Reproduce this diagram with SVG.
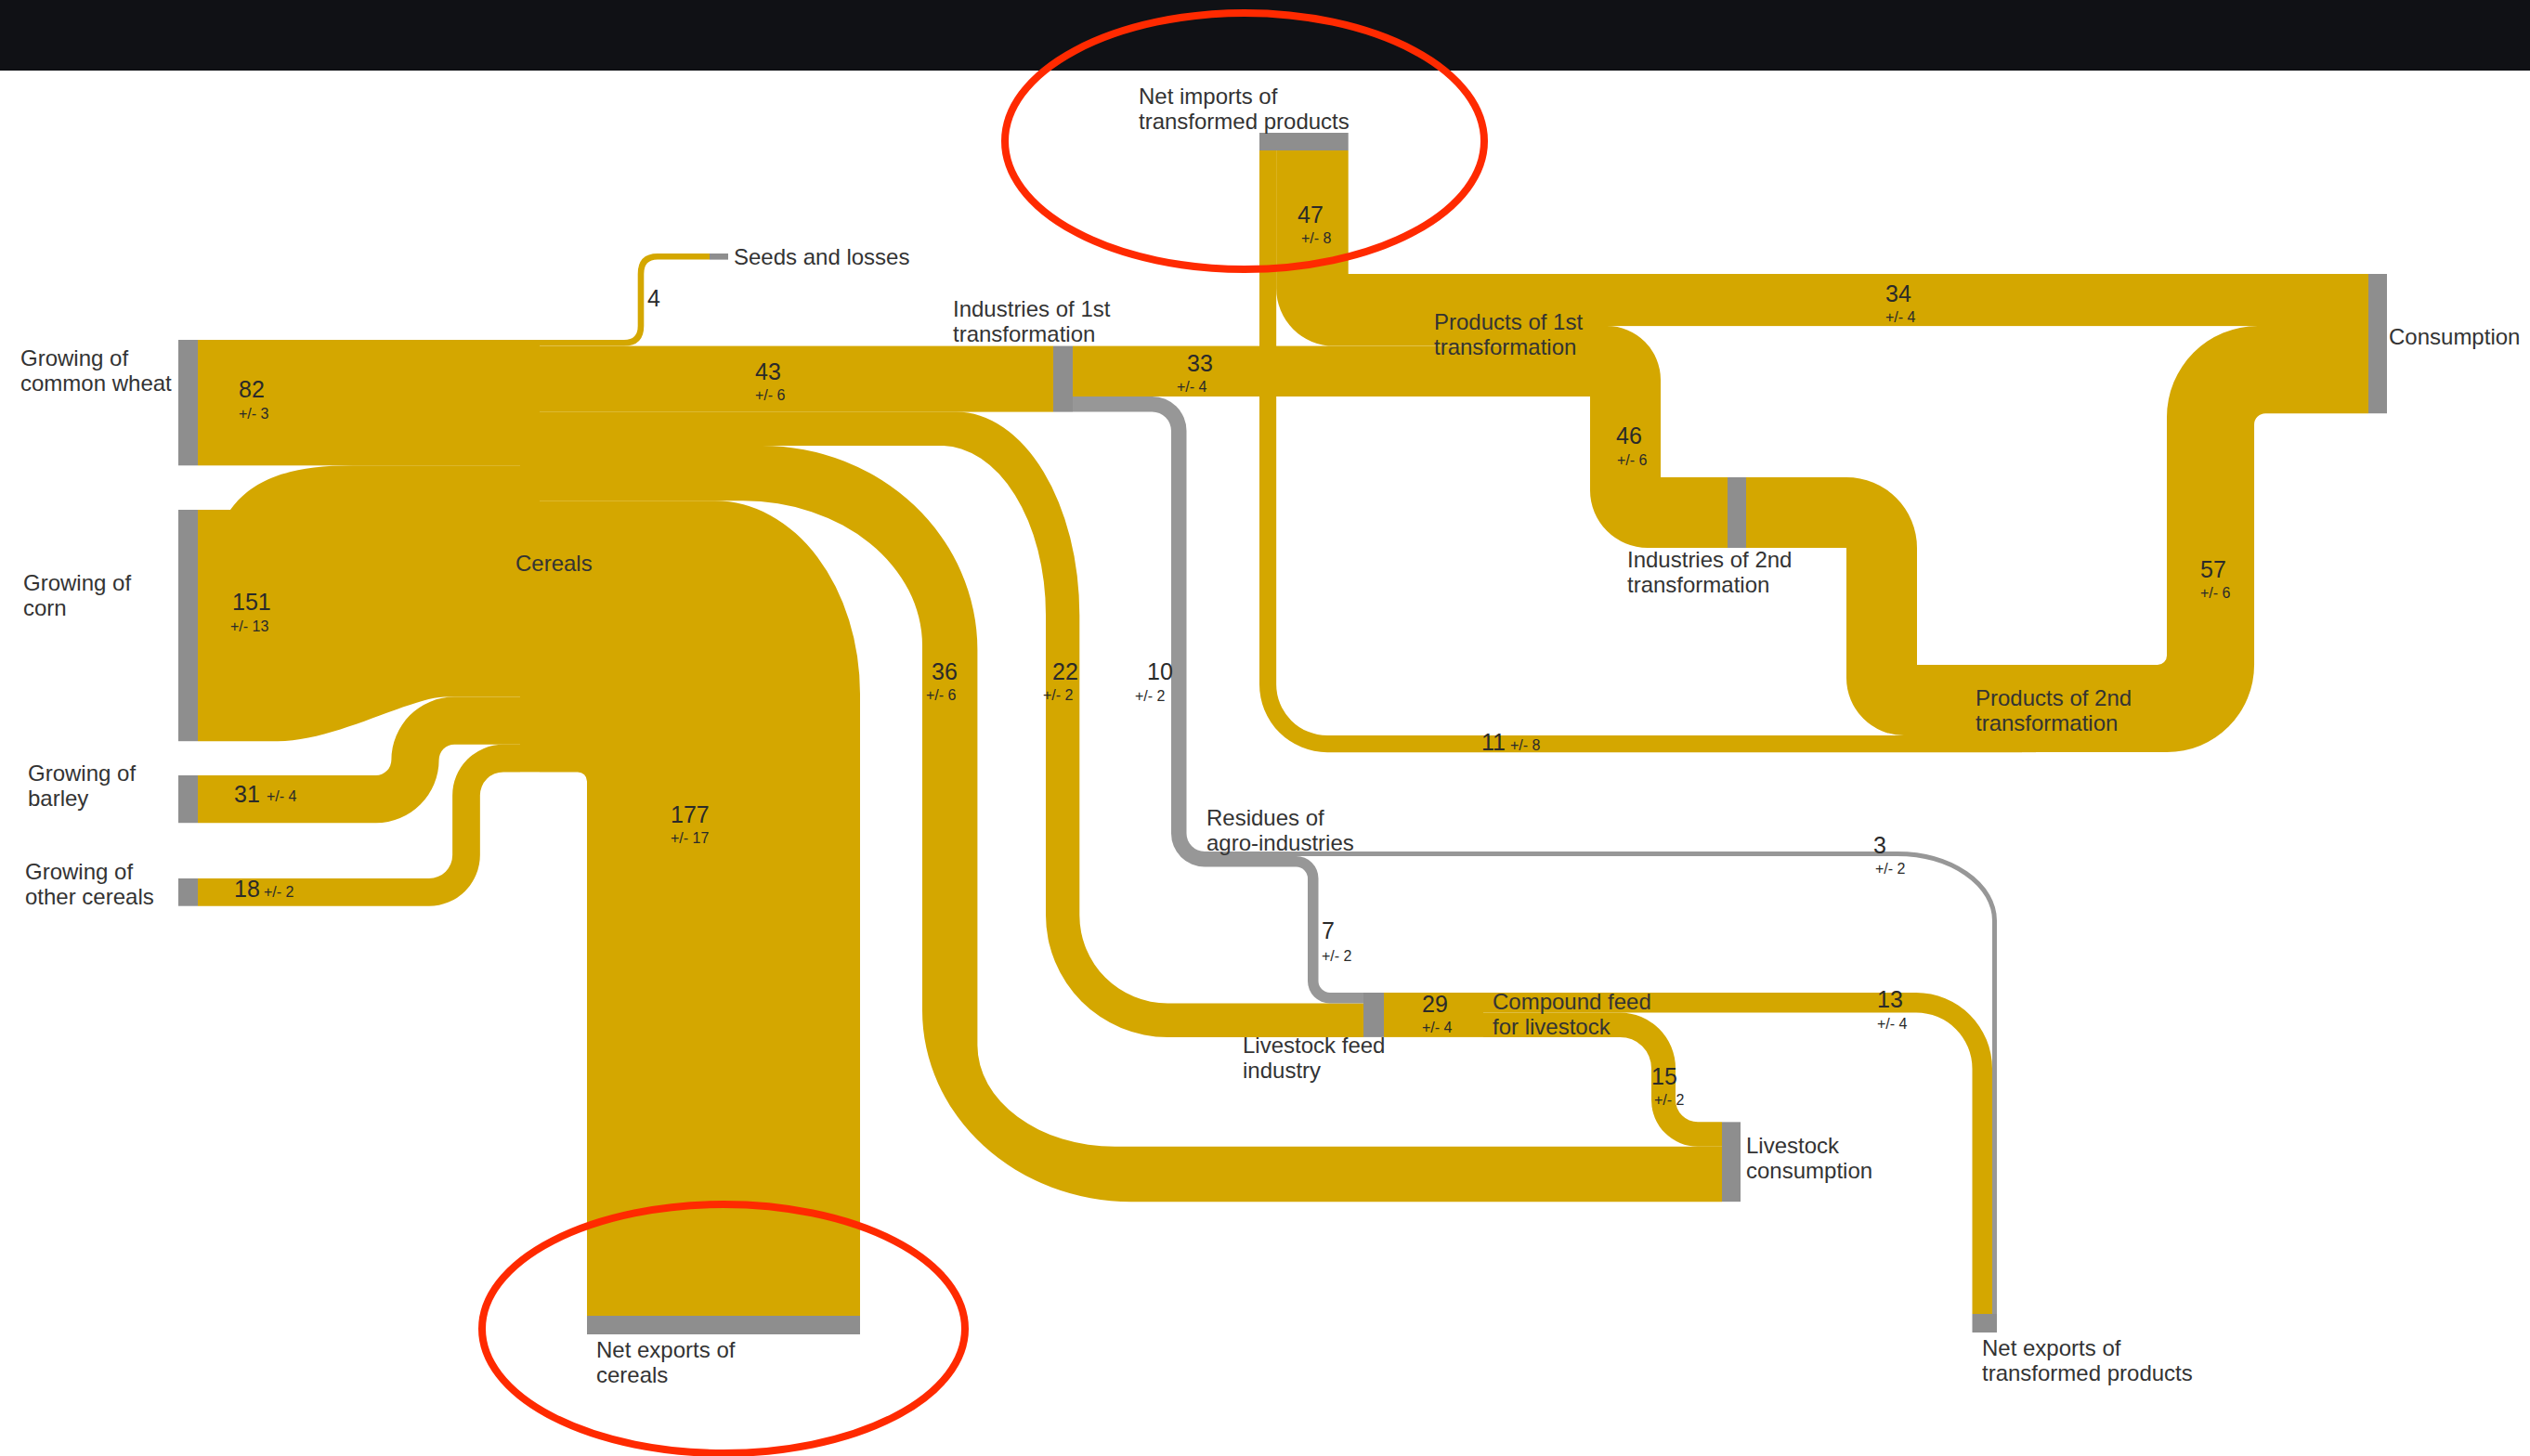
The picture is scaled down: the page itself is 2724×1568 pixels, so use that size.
<svg xmlns="http://www.w3.org/2000/svg" width="2724" height="1568" viewBox="0 0 2724 1568">
<style>
.f{fill:#d4a700}
.g{fill:#979797}
.n{fill:#8e8e8e}
text{font-family:"Liberation Sans",Arial,Helvetica,sans-serif;fill:#333}
.l{font-size:24px}
.v{font-size:25px;fill:#2a2a2a}
.e{font-size:16px;fill:#2a2a2a}
.mark{fill:none;stroke:#ff2a00;stroke-width:8}
</style>
<rect width="2724" height="1568" fill="#ffffff"/>
<rect width="2724" height="76" fill="#101115"/>

<g id="connectors">
  <!-- inputs to Cereals -->
  <rect class="f" x="213" y="366" width="347" height="135.3"/>
  <path class="f" d="M213,549 H248 C268,522 300,501.3 380,501.3 H560 V750.5 H478 C440,752 360,798.2 299,798.2 H213 Z"/>
  <path class="f" d="M213,835 H404.75 A16.65,16.65 0 0 0 421.4,818.35 A67.85,67.85 0 0 1 489.25,750.5 H560 V801.7 H489.25 A16.65,16.65 0 0 0 472.6,818.35 A67.85,67.85 0 0 1 404.75,886.2 H213 Z"/>
  <path class="f" d="M213,946 H462 A25.15,25.15 0 0 0 487.15,920.85 V856.55 A54.85,54.85 0 0 1 542,801.7 H560 V831.4 H542 A25.15,25.15 0 0 0 516.85,856.55 V920.85 A54.85,54.85 0 0 1 462,975.7 H213 Z"/>
  <!-- outputs of Cereals -->
  <path d="M581,369.3 H672 Q690,369.3 690,351 V295 Q690,276.3 708,276.3 H764" fill="none" stroke="#d4a700" stroke-width="6.6"/>
  <rect class="f" x="581" y="372.6" width="553" height="71"/>
  <path class="f" d="M581,443.6 H1029.3 A133,219 0 0 1 1162.3,662.6 V985.6 A95,95 0 0 0 1257.3,1080.6 H1468 V1116.9 H1257.3 A131.3,131.3 0 0 1 1126,985.6 V661.9 A113,182 0 0 0 1013,479.9 H581 Z"/>
  <path class="f" d="M581,479.9 H820.4 A232,220 0 0 1 1052.4,699.9 V1125.75 A148,109 0 0 0 1200.4,1234.75 H1854 V1294.15 H1218 A225,206 0 0 1 993,1088.15 V695.3 A193,156 0 0 0 800,539.3 H581 Z"/>
  <path class="f" d="M581,539.3 H770 A156,208 0 0 1 926,747.3 V1417 H632 V841.4 A10,10 0 0 0 622,831.4 H581 Z"/>
  <!-- Industries of 1st transformation outputs -->
  <rect class="f" x="1155" y="372.6" width="469" height="54.4"/>
  <path class="g" d="M1155,427 H1240.5 A37,37 0 0 1 1277.5,464 V897.5 A19.5,19.5 0 0 0 1297,917 H1300 V933.5 H1297 A36,36 0 0 1 1261,897.5 V464 A20.5,20.5 0 0 0 1240.5,443.5 H1155 Z"/>
  <!-- Net imports of transformed products -->
  <path class="f" d="M1374.15,162 H1451.7 V295 H1624 V372.6 H1436.15 A62,62 0 0 1 1374.15,310.6 Z"/>
  <path class="f" d="M1356,162 H1374.15 V737 A55,55 0 0 0 1429.15,792 H2177 V810.15 H1429.15 A73.15,73.15 0 0 1 1356,737 Z"/>
  <!-- Products of 1st transformation outputs -->
  <rect class="f" x="1624" y="295" width="926" height="56.1"/>
  <path class="f" d="M1624,351.1 H1730 A58,58 0 0 1 1788,409.1 V514 H1860 V590 H1774 A62,62 0 0 1 1712,528 V427 H1624 Z"/>
  <!-- Industries of 2nd transformation output -->
  <path class="f" d="M1880,514 H1988 A76,76 0 0 1 2064,590 V716 H2177 V792 H2050 A62,62 0 0 1 1988,730 V590 H1880 Z"/>
  <!-- Products of 2nd transformation output -->
  <path class="f" d="M2192,716 H2323 A10,10 0 0 0 2333,706 V449.1 A98,98 0 0 1 2431,351.1 H2550 V445.2 H2439.05 A12,12 0 0 0 2427.05,457.2 V716.05 A94.05,94.05 0 0 1 2333,810.1 H2192 Z"/>
  <!-- Residues of agro-industries outputs -->
  <path class="g" d="M1300,922 H1395.5 A24,24 0 0 1 1419.5,946 V1056.5 A12.5,12.5 0 0 0 1432,1069 H1468 V1080.6 H1432 A24,24 0 0 1 1408,1056.6 V946 A12.5,12.5 0 0 0 1395.5,933.5 H1300 Z"/>
  <path d="M1300,919.5 H2042.5 A105,72 0 0 1 2147.5,991.5 V1415" fill="none" stroke="#979797" stroke-width="5"/>
  <!-- Livestock feed industry / compound feed -->
  <rect class="f" x="1490" y="1069" width="107" height="47.9"/>
  <path class="f" d="M1597,1069 H2063 A82,82 0 0 1 2145,1151 V1415 H2123.5 V1151 A60.5,60.5 0 0 0 2063,1090.5 H1597 Z"/>
  <path class="f" d="M1597,1090.5 H1744 A60,60 0 0 1 1804,1150.5 V1184.35 A24,24 0 0 0 1828,1208.35 H1854 V1234.75 H1828 A50,50 0 0 1 1778,1184.75 V1150.5 A33.6,33.6 0 0 0 1744,1116.9 H1597 Z"/>

  <g id="flow-values">
    <text class="v" x="697" y="330">4</text>
    <text class="v"><tspan x="257" y="428">82</tspan><tspan class="e" x="257" y="451">+/- 3</tspan></text>
    <text class="v"><tspan x="250" y="657">151</tspan><tspan class="e" x="248" y="680">+/- 13</tspan></text>
    <text class="v"><tspan x="252" y="864">31</tspan><tspan class="e" x="287" y="863">+/- 4</tspan></text>
    <text class="v"><tspan x="252" y="966">18</tspan><tspan class="e" x="284" y="966">+/- 2</tspan></text>
    <text class="v"><tspan x="813" y="409">43</tspan><tspan class="e" x="813" y="431">+/- 6</tspan></text>
    <text class="v"><tspan x="722" y="886">177</tspan><tspan class="e" x="722" y="908">+/- 17</tspan></text>
    <text class="v"><tspan x="1003" y="732">36</tspan><tspan class="e" x="997" y="754">+/- 6</tspan></text>
    <text class="v"><tspan x="1133" y="732">22</tspan><tspan class="e" x="1123" y="754">+/- 2</tspan></text>
    <text class="v"><tspan x="1235" y="732">10</tspan><tspan class="e" x="1222" y="755">+/- 2</tspan></text>
    <text class="v"><tspan x="1397" y="240">47</tspan><tspan class="e" x="1401" y="262">+/- 8</tspan></text>
    <text class="v"><tspan x="1278" y="400">33</tspan><tspan class="e" x="1267" y="422">+/- 4</tspan></text>
    <text class="v"><tspan x="2030" y="325">34</tspan><tspan class="e" x="2030" y="347">+/- 4</tspan></text>
    <text class="v"><tspan x="1740" y="478">46</tspan><tspan class="e" x="1741" y="501">+/- 6</tspan></text>
    <text class="v"><tspan x="2369" y="622">57</tspan><tspan class="e" x="2369" y="644">+/- 6</tspan></text>
    <text class="v"><tspan x="1595" y="808">11</tspan><tspan class="e" x="1626" y="808">+/- 8</tspan></text>
    <text class="v"><tspan x="1531" y="1090">29</tspan><tspan class="e" x="1531" y="1112">+/- 4</tspan></text>
    <text class="v"><tspan x="1423" y="1011">7</tspan><tspan class="e" x="1423" y="1035">+/- 2</tspan></text>
    <text class="v"><tspan x="1778" y="1168">15</tspan><tspan class="e" x="1781" y="1190">+/- 2</tspan></text>
    <text class="v"><tspan x="2021" y="1085">13</tspan><tspan class="e" x="2021" y="1108">+/- 4</tspan></text>
    <text class="v"><tspan x="2017" y="919">3</tspan><tspan class="e" x="2019" y="941">+/- 2</tspan></text>
  </g>
</g>

<g id="node-wheat"><rect class="n" x="192" y="366" width="21" height="135.3"/>
  <text class="l"><tspan x="22" y="394">Growing of</tspan><tspan x="22" y="421">common wheat</tspan></text></g>
<g id="node-corn"><rect class="n" x="192" y="549" width="21" height="249.2"/>
  <text class="l"><tspan x="25" y="636">Growing of</tspan><tspan x="25" y="663">corn</tspan></text></g>
<g id="node-barley"><rect class="n" x="192" y="835" width="21" height="51.2"/>
  <text class="l"><tspan x="30" y="841">Growing of</tspan><tspan x="30" y="868">barley</tspan></text></g>
<g id="node-other-cereals"><rect class="n" x="192" y="946" width="21" height="29.7"/>
  <text class="l"><tspan x="27" y="947">Growing of</tspan><tspan x="27" y="974">other cereals</tspan></text></g>
<g id="node-cereals"><rect class="f" x="560" y="366" width="21" height="465.4"/>
  <text class="l" x="555" y="615">Cereals</text></g>
<g id="node-seeds"><rect class="n" x="764" y="273" width="20" height="6.6"/>
  <text class="l" x="790" y="285">Seeds and losses</text></g>
<g id="node-industries-1st"><rect class="n" x="1134" y="372.6" width="21" height="71"/>
  <text class="l"><tspan x="1026" y="341">Industries of 1st</tspan><tspan x="1026" y="368">transformation</tspan></text></g>
<g id="node-net-imports"><rect class="n" x="1356" y="143" width="95.7" height="19"/>
  <text class="l"><tspan x="1226" y="112">Net imports of</tspan><tspan x="1226" y="139">transformed products</tspan></text></g>
<g id="node-products-1st">
  <text class="l"><tspan x="1544" y="355">Products of 1st</tspan><tspan x="1544" y="382">transformation</tspan></text></g>
<g id="node-consumption"><rect class="n" x="2550" y="295" width="20" height="150.2"/>
  <text class="l" x="2572" y="371">Consumption</text></g>
<g id="node-industries-2nd"><rect class="n" x="1860" y="514" width="20" height="76"/>
  <text class="l"><tspan x="1752" y="611">Industries of 2nd</tspan><tspan x="1752" y="638">transformation</tspan></text></g>
<g id="node-products-2nd"><rect class="f" x="2177" y="716" width="15" height="94.15"/>
  <text class="l"><tspan x="2127" y="760">Products of 2nd</tspan><tspan x="2127" y="787">transformation</tspan></text></g>
<g id="node-residues">
  <text class="l"><tspan x="1299" y="889">Residues of</tspan><tspan x="1299" y="916">agro-industries</tspan></text></g>
<g id="node-livestock-feed"><rect class="n" x="1468" y="1069" width="22" height="47.9"/>
  <text class="l"><tspan x="1338" y="1134">Livestock feed</tspan><tspan x="1338" y="1161">industry</tspan></text></g>
<g id="node-compound-feed">
  <text class="l"><tspan x="1607" y="1087">Compound feed</tspan><tspan x="1607" y="1114">for livestock</tspan></text></g>
<g id="node-livestock-consumption"><rect class="n" x="1854" y="1208.35" width="20" height="85.8"/>
  <text class="l"><tspan x="1880" y="1242">Livestock</tspan><tspan x="1880" y="1269">consumption</tspan></text></g>
<g id="node-net-exports-cereals"><rect class="n" x="632" y="1417" width="294" height="20"/>
  <text class="l"><tspan x="642" y="1462">Net exports of</tspan><tspan x="642" y="1489">cereals</tspan></text></g>
<g id="node-net-exports-transformed"><rect class="n" x="2123.5" y="1415" width="26.5" height="20"/>
  <text class="l"><tspan x="2134" y="1460">Net exports of</tspan><tspan x="2134" y="1487">transformed products</tspan></text></g>

<g id="annotations">
  <ellipse class="mark" cx="1340" cy="152" rx="258" ry="138"/>
  <ellipse class="mark" cx="779" cy="1431" rx="260" ry="134"/>
</g>
</svg>
